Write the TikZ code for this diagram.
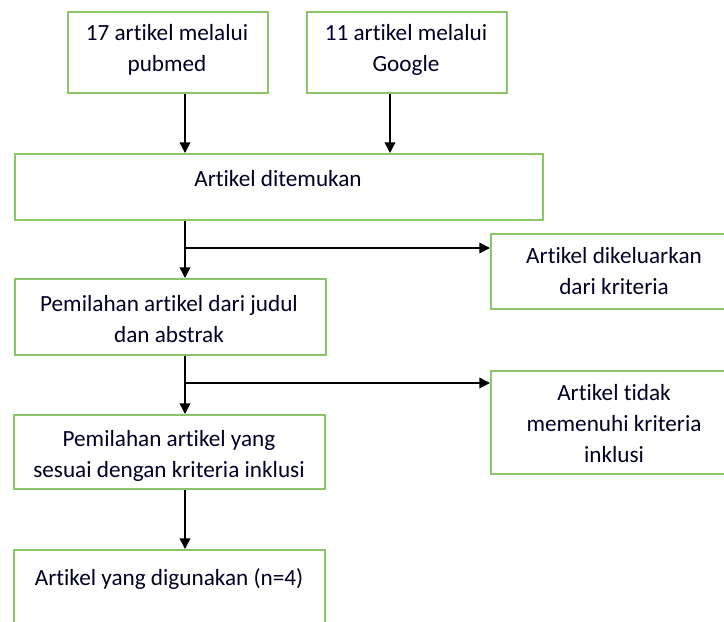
\documentclass[tikz,border=0pt]{standalone}
\usepackage{fontspec}
\setmainfont{Carlito}[Ligatures={NoCommon,NoContextual}]
\usetikzlibrary{arrows.meta}
\definecolor{boxgreen}{RGB}{140,196,104}
\tikzset{
  box/.style={draw=boxgreen, line width=1.2pt, fill=white, inner sep=0pt, anchor=north west},
  txt/.style={align=center, inner sep=0pt, font=\fontsize{17.4}{23.25}\selectfont, text=black!85!blue},
  arr/.style={draw=black, line width=1.1pt, -{Triangle[length=8pt,width=8pt]}},
  ln/.style={draw=black, line width=1.1pt}
}
\begin{document}
\begin{tikzpicture}[x=0.75pt,y=-0.75pt]
\clip (0,0) rectangle (724,621);
\fill[white] (0,0) rectangle (724,621);
% boxes (px coordinates)
\node[box, minimum width=150pt, minimum height=60.75pt] (b1) at (67,11) {};
\node[box, minimum width=150pt, minimum height=60.75pt] (b2) at (306,11) {};
\node[box, minimum width=396pt, minimum height=49.5pt] (b3) at (14,153) {};
\node[box, minimum width=187.5pt, minimum height=56.25pt] (b4) at (490,233) {};
\node[box, minimum width=233.25pt, minimum height=57pt] (b5) at (14,278) {};
\node[box, minimum width=187.5pt, minimum height=77.25pt] (b6) at (490,370) {};
\node[box, minimum width=233.25pt, minimum height=55.5pt] (b7) at (13,414) {};
\node[box, minimum width=233.25pt, minimum height=70pt] (b8) at (13,549) {};
% texts
\node[txt] (t1) at (167,50) {17 artikel melalui\\pubmed};
\node[txt] (t2) at (406,50) {11 artikel melalui\\Google};
\node[txt] (t3) at (278,179) {Artikel ditemukan};
\node[txt] (t4) at (614,271) {Artikel dikeluarkan\\dari kriteria};
\node[txt] (t5) at (169,319) {Pemilahan artikel dari judul\\dan abstrak};
\node[txt] (t6) at (614,424) {Artikel tidak\\memenuhi kriteria\\inklusi};
\node[txt] (t7) at (169,456) {Pemilahan artikel yang\\sesuai dengan kriteria inklusi};
\node[txt] (t8) at (169,579) {Artikel yang digunakan (n=4)};
% connectors
\coordinate (sp) at (185,0);
\coordinate (gg) at (390,0);
\coordinate (j1) at (185,248);
\coordinate (j2) at (185,383);
\draw[arr] (b1.south -| sp) -- (b3.north -| sp);
\draw[arr] (b2.south -| gg) -- (b3.north -| gg);
\draw[arr] (b3.south -| sp) -- (b5.north -| sp);
\draw[arr] (j1) -- (j1 -| b4.west);
\draw[arr] (b5.south -| sp) -- (b7.north -| sp);
\draw[arr] (j2) -- (j2 -| b6.west);
\draw[arr] (b7.south -| sp) -- (b8.north -| sp);
\end{tikzpicture}
\end{document}
